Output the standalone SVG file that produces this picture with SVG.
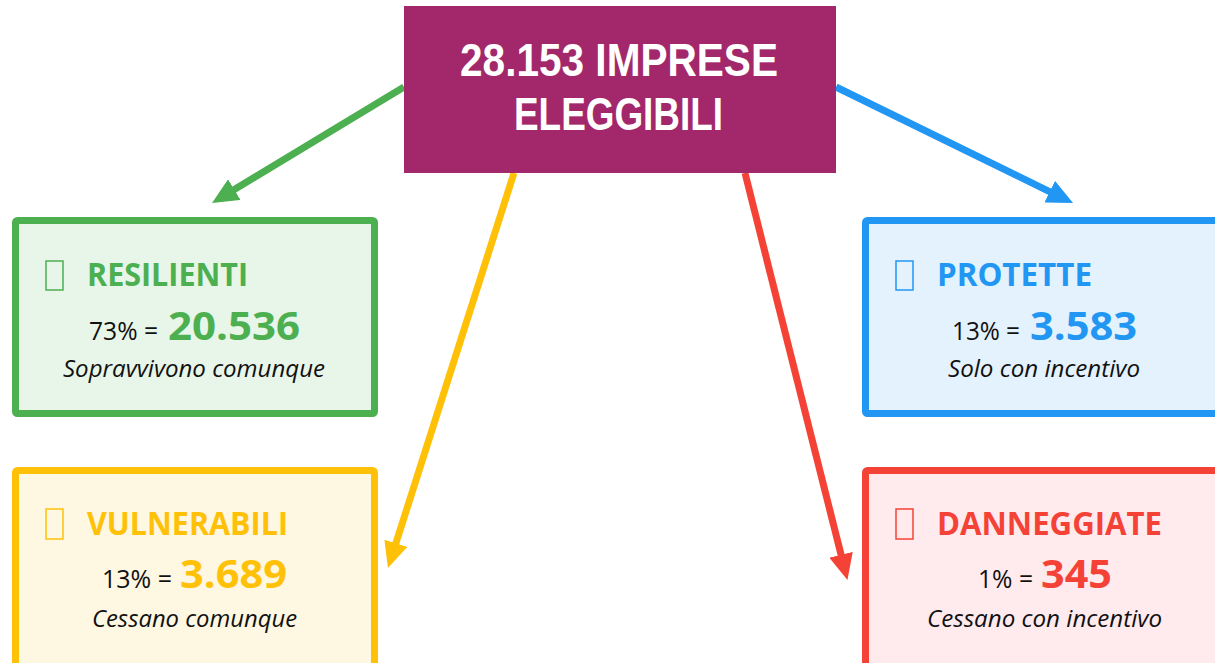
<svg xmlns="http://www.w3.org/2000/svg" width="1215" height="663" viewBox="0 0 1215 663">
<style>
.title{font-family:"Liberation Sans",Arial,sans-serif;font-weight:bold;font-size:46px;fill:#fff}
.head{font-family:"Open Sans","Liberation Sans",sans-serif;font-weight:bold;font-size:32px}
.pct{font-family:"Open Sans","Liberation Sans",sans-serif;font-size:25px;fill:#111}
.num{font-family:"Open Sans","Liberation Sans",sans-serif;font-weight:bold;font-size:40px}
.sub{font-family:"Open Sans","Liberation Sans",sans-serif;font-style:italic;font-size:24px;fill:#111}
.box{stroke-width:7}
.icon{fill:none;stroke-width:1.5}
.arr{fill:none;stroke-width:7}
</style>
<defs>
<marker id="mg" markerUnits="userSpaceOnUse" markerWidth="26" markerHeight="24" viewBox="0 0 26 24" refX="14" refY="12" orient="auto"><path d="M0,0 L26,12 L0,24 z" fill="#4CAF50"/></marker>
<marker id="mb" markerUnits="userSpaceOnUse" markerWidth="26" markerHeight="24" viewBox="0 0 26 24" refX="14" refY="12" orient="auto"><path d="M0,0 L26,12 L0,24 z" fill="#2196F3"/></marker>
<marker id="my" markerUnits="userSpaceOnUse" markerWidth="26" markerHeight="24" viewBox="0 0 26 24" refX="14" refY="12" orient="auto"><path d="M0,0 L26,12 L0,24 z" fill="#FFC107"/></marker>
<marker id="mr" markerUnits="userSpaceOnUse" markerWidth="26" markerHeight="24" viewBox="0 0 26 24" refX="14" refY="12" orient="auto"><path d="M0,0 L26,12 L0,24 z" fill="#F44336"/></marker>
</defs>
<rect width="1215" height="663" fill="#fff"/>

<g id="connectors">
<line class="arr" stroke="#4CAF50" x1="404" y1="87" x2="222.3" y2="196.8" marker-end="url(#mg)"/>
<line class="arr" stroke="#2196F3" x1="836" y1="87" x2="1062.3" y2="197.8" marker-end="url(#mb)"/>
<line class="arr" stroke="#FFC107" x1="514" y1="173" x2="391.6" y2="556.6" marker-end="url(#my)"/>
<line class="arr" stroke="#F44336" x1="745" y1="173" x2="844.5" y2="568.4" marker-end="url(#mr)"/>
</g>

<g id="main">
<rect x="404" y="6" width="432" height="167" fill="#A3286B"/>
<text class="title" x="460" y="76" textLength="318" lengthAdjust="spacingAndGlyphs">28.153 IMPRESE</text>
<text class="title" x="514" y="130" textLength="209" lengthAdjust="spacingAndGlyphs">ELEGGIBILI</text>
</g>

<g id="resilienti">
<rect class="box" x="15.5" y="220.5" width="359" height="193" rx="2" fill="#E8F5E9" stroke="#4CAF50"/>
<rect class="icon" x="46" y="261" width="17" height="29" stroke="#4CAF50"/>
<text class="head" x="87" y="286" fill="#4CAF50" textLength="161" lengthAdjust="spacingAndGlyphs">RESILIENTI</text>
<text class="pct" x="89" y="340" textLength="69" lengthAdjust="spacingAndGlyphs">73% =</text>
<text class="num" x="168" y="340" fill="#4CAF50" textLength="132" lengthAdjust="spacingAndGlyphs">20.536</text>
<text class="sub" x="63" y="377" textLength="262" lengthAdjust="spacingAndGlyphs">Sopravvivono comunque</text>
</g>

<g id="protette">
<rect class="box" x="865.5" y="220.5" width="359" height="193" rx="2" fill="#E3F2FD" stroke="#2196F3"/>
<rect class="icon" x="896" y="261" width="17" height="29" stroke="#2196F3"/>
<text class="head" x="937" y="286" fill="#2196F3" textLength="155" lengthAdjust="spacingAndGlyphs">PROTETTE</text>
<text class="pct" x="952" y="340" textLength="68" lengthAdjust="spacingAndGlyphs">13% =</text>
<text class="num" x="1030" y="340" fill="#2196F3" textLength="107" lengthAdjust="spacingAndGlyphs">3.583</text>
<text class="sub" x="948" y="377" textLength="192" lengthAdjust="spacingAndGlyphs">Solo con incentivo</text>
</g>

<g id="vulnerabili">
<rect class="box" x="15.5" y="470.5" width="359" height="200" rx="2" fill="#FEF7E1" stroke="#FFC107"/>
<rect class="icon" x="46" y="509" width="17" height="30" stroke="#FFC107"/>
<text class="head" x="87" y="535" fill="#FFC107" textLength="201" lengthAdjust="spacingAndGlyphs">VULNERABILI</text>
<text class="pct" x="102" y="588" textLength="70" lengthAdjust="spacingAndGlyphs">13% =</text>
<text class="num" x="180" y="588" fill="#FFC107" textLength="107" lengthAdjust="spacingAndGlyphs">3.689</text>
<text class="sub" x="92" y="627" textLength="205" lengthAdjust="spacingAndGlyphs">Cessano comunque</text>
</g>

<g id="danneggiate">
<rect class="box" x="865.5" y="470.5" width="359" height="200" rx="2" fill="#FFEBEE" stroke="#F44336"/>
<rect class="icon" x="896" y="509" width="17" height="30" stroke="#F44336"/>
<text class="head" x="937" y="535" fill="#F44336" textLength="225" lengthAdjust="spacingAndGlyphs">DANNEGGIATE</text>
<text class="pct" x="978" y="588" textLength="55" lengthAdjust="spacingAndGlyphs">1% =</text>
<text class="num" x="1041" y="588" fill="#F44336" textLength="71" lengthAdjust="spacingAndGlyphs">345</text>
<text class="sub" x="927" y="627" textLength="235" lengthAdjust="spacingAndGlyphs">Cessano con incentivo</text>
</g>
</svg>
